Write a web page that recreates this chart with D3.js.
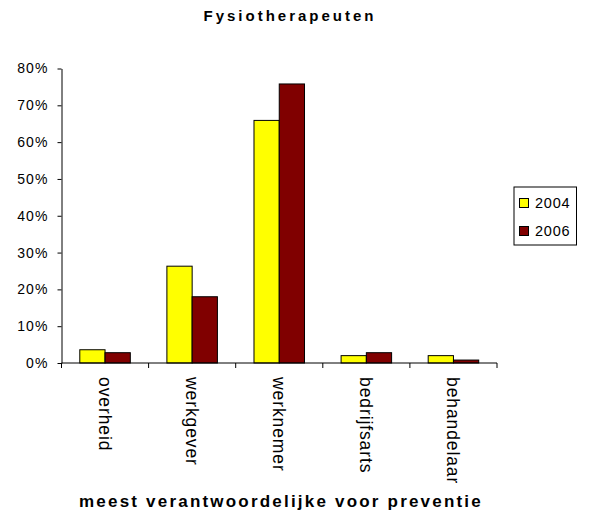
<!DOCTYPE html>
<html>
<head>
<meta charset="utf-8">
<script src="https://cdn.jsdelivr.net/npm/d3@7/dist/d3.min.js"></script>
<style>
  html, body { margin: 0; padding: 0; background: #fff; }
  svg { display: block; font-family: "Liberation Sans", Arial, sans-serif; }
</style>
</head>
<body>
<svg id="chart" width="592" height="517"></svg>
<script>
// Who is most responsible for prevention, according to physiotherapists
const categories = ["overheid", "werkgever", "werknemer", "bedrijfsarts", "behandelaar"];
const seriesNames = ["2004", "2006"];
const values2004 = [0.036, 0.263, 0.659, 0.020, 0.020];
const values2006 = [0.028, 0.180, 0.758, 0.028, 0.008];
const yTicks = [0, 0.1, 0.2, 0.3, 0.4, 0.5, 0.6, 0.7, 0.8];
const colors = ["#ffff00", "#800000"];

const series = [values2004, values2006];

const svg = d3.select("#chart");
const margin = { left: 61.5, right: 95, top: 68.5, bottom: 154 };
const W = 592, H = 517;

const x = d3.scaleBand()
  .domain(categories)
  .range([margin.left, W - margin.right])
  .paddingInner(0.42)
  .paddingOuter(0.21);

const xSub = d3.scaleBand()
  .domain(seriesNames)
  .range([0, x.bandwidth()]);

const y = d3.scaleLinear()
  .domain([0, 0.8])
  .range([H - margin.bottom, margin.top]);

// bars
const groups = svg.append("g")
  .selectAll("g")
  .data(categories)
  .join("g")
  .attr("transform", d => `translate(${x(d)},0)`);

groups.selectAll("rect")
  .data((d, i) => seriesNames.map((s, k) => ({ s, v: series[k][i], k })))
  .join("rect")
  .attr("x", d => xSub(d.s))
  .attr("y", d => y(d.v))
  .attr("width", xSub.bandwidth())
  .attr("height", d => y(0) - y(d.v))
  .attr("fill", d => colors[d.k])
  .attr("stroke", "#000")
  .attr("stroke-width", 1);

// y axis
const yAxis = d3.axisLeft(y)
  .tickValues(yTicks)
  .tickFormat(d3.format(".0%"))
  .tickSizeInner(4)
  .tickSizeOuter(0)
  .tickPadding(9);

const yg = svg.append("g")
  .attr("transform", `translate(${margin.left},0)`)
  .call(yAxis);
yg.selectAll("text")
  .attr("font-size", 14)
  .attr("letter-spacing", 1.1)
  .attr("fill", "#000")
  .attr("font-family", "Liberation Sans, Arial, sans-serif");
yg.selectAll("line, path").attr("stroke", "#000");

// x axis: ticks between categories
const x0 = margin.left, x1 = W - margin.right;
const xg = svg.append("g");
xg.append("line")
  .attr("x1", x0).attr("x2", x1)
  .attr("y1", y(0)).attr("y2", y(0))
  .attr("stroke", "#000");
const boundaries = d3.range(categories.length + 1).map(i => x0 + i * (x1 - x0) / categories.length);
xg.selectAll("line.tick")
  .data(boundaries)
  .join("line")
  .attr("class", "tick")
  .attr("x1", d => d).attr("x2", d => d)
  .attr("y1", y(0)).attr("y2", y(0) + 5)
  .attr("stroke", "#000");

// rotated category labels
xg.selectAll("text")
  .data(categories)
  .join("text")
  .attr("transform", d => `translate(${x(d) + x.bandwidth() / 2},${y(0) + 14}) rotate(90)`)
  .attr("dy", "0.35em")
  .attr("text-anchor", "start")
  .attr("font-size", 17.5)
  .attr("letter-spacing", 0.9)
  .attr("fill", "#000")
  .text(d => d);

// title
svg.append("text")
  .attr("x", 290)
  .attr("y", 20.5)
  .attr("text-anchor", "middle")
  .attr("font-size", 15)
  .attr("font-weight", "bold")
  .attr("letter-spacing", 3)
  .attr("fill", "#000")
  .text("Fysiotherapeuten");

// x axis title
svg.append("text")
  .attr("x", 281)
  .attr("y", 507)
  .attr("text-anchor", "middle")
  .attr("font-size", 17)
  .attr("font-weight", "bold")
  .attr("letter-spacing", 2.2)
  .attr("fill", "#000")
  .text("meest verantwoordelijke voor preventie");

// legend
const lg = svg.append("g").attr("transform", "translate(514,187)");
lg.append("rect")
  .attr("width", 62.5).attr("height", 58)
  .attr("fill", "#fff").attr("stroke", "#000");
const items = lg.selectAll("g")
  .data(seriesNames)
  .join("g")
  .attr("transform", (d, i) => `translate(5,${16 + i * 28})`);
items.append("rect")
  .attr("x", 0.5).attr("y", -4.5)
  .attr("width", 9).attr("height", 9)
  .attr("fill", (d, i) => colors[i])
  .attr("stroke", "#000");
items.append("text")
  .attr("x", 16)
  .attr("dy", "0.36em")
  .attr("font-size", 14.5)
  .attr("letter-spacing", 0.8)
  .attr("fill", "#000")
  .text(d => d);
</script>
</body>
</html>
